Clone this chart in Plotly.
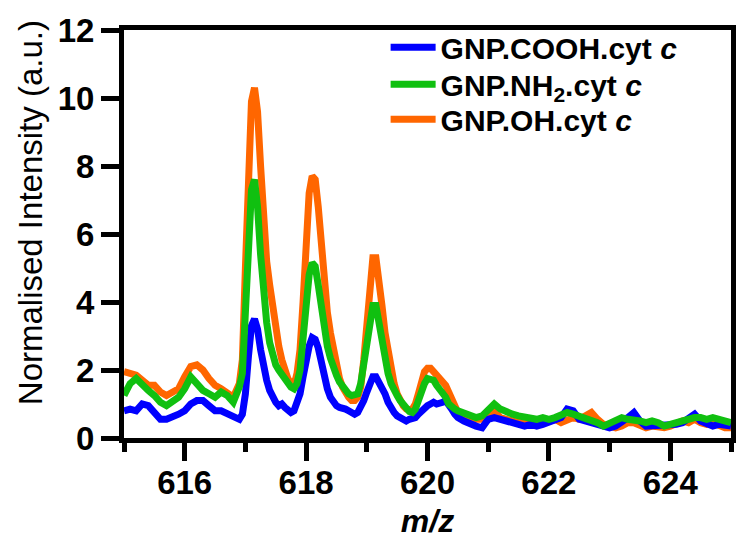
import plotly.graph_objects as go

mz = [615.0, 615.1, 615.2, 615.3, 615.4, 615.5, 615.6, 615.7, 615.8, 615.9,
      616.0, 616.1, 616.2, 616.3, 616.4, 616.5, 616.6, 616.7, 616.8, 616.9,
      616.95, 617.0, 617.05, 617.1, 617.15, 617.2, 617.25, 617.3, 617.35, 617.4,
      617.45, 617.5, 617.55, 617.6, 617.65, 617.7, 617.75, 617.8, 617.85, 617.9,
      617.95, 618.0, 618.05, 618.1, 618.15, 618.2, 618.25, 618.3, 618.35, 618.4,
      618.45, 618.5, 618.55, 618.6, 618.65, 618.7, 618.75, 618.8, 618.85, 618.9,
      618.95, 619.0, 619.05, 619.1, 619.15, 619.2, 619.25, 619.3, 619.35, 619.4,
      619.45, 619.5, 619.55, 619.6, 619.65, 619.7, 619.75, 619.8, 619.85, 619.9,
      619.95, 620.0, 620.05, 620.1, 620.15, 620.2, 620.25, 620.3, 620.35, 620.4,
      620.45, 620.5, 620.6, 620.7, 620.8, 620.9, 621.0, 621.1, 621.2, 621.3,
      621.4, 621.5, 621.6, 621.7, 621.8, 621.9, 622.0, 622.1, 622.2, 622.3,
      622.4, 622.5, 622.6, 622.7, 622.8, 622.9, 623.0, 623.1, 623.2, 623.3,
      623.4, 623.5, 623.6, 623.7, 623.8, 623.9, 624.0, 624.1, 624.2, 624.3,
      624.4, 624.5, 624.6, 624.7, 624.8, 624.9, 625.0]

oh_cytc = [1.95, 1.9, 1.85, 1.7, 1.55, 1.55, 1.35, 1.25, 1.35, 1.45,
           1.8, 2.1, 2.15, 2.0, 1.75, 1.55, 1.45, 1.35, 1.2, 1.6,
           2.3, 5.0, 8.0, 9.9, 10.3, 9.6, 8.0, 6.3, 5.2, 4.5,
           3.8, 3.2, 2.7, 2.3, 2.0, 1.75, 1.6, 1.55, 1.9, 2.6,
           4.0, 5.8, 7.2, 7.7, 7.6, 6.8, 5.6, 4.5, 3.7, 3.1,
           2.6, 2.1, 1.75, 1.5, 1.3, 1.2, 1.1, 1.1, 1.2, 1.5,
           2.3, 3.5, 4.6, 5.3, 5.3, 4.7, 3.9, 3.1, 2.5, 2.0,
           1.6, 1.3, 1.1, 0.95, 0.85, 0.82, 0.85, 1.0, 1.3, 1.7,
           1.95, 2.05, 2.05, 1.95, 1.85, 1.8, 1.7, 1.55, 1.35, 1.1,
           0.9, 0.75, 0.7, 0.6, 0.55, 0.55, 0.65, 0.8, 0.6, 0.55,
           0.45, 0.45, 0.5, 0.55, 0.5, 0.45, 0.5, 0.55, 0.45, 0.5,
           0.6, 0.55, 0.65, 0.75, 0.55, 0.4, 0.35, 0.3, 0.35, 0.45,
           0.45, 0.35, 0.3, 0.35, 0.3, 0.3, 0.35, 0.45, 0.5, 0.45,
           0.55, 0.45, 0.4, 0.45, 0.35, 0.3, 0.3]

nh2_cytc = [1.25, 1.6, 1.75, 1.55, 1.4, 1.25, 1.05, 0.95, 1.05, 1.2,
            1.45, 1.8, 1.6, 1.4, 1.3, 1.2, 1.35, 1.25, 1.05, 1.5,
            1.9, 3.6, 5.8, 7.3, 7.6, 6.8, 5.4, 4.2, 3.4, 2.8,
            2.4, 2.15, 2.0, 1.85, 1.7, 1.6, 1.5, 1.45, 1.6, 2.0,
            2.9, 4.0, 4.8, 5.15, 5.05, 4.5, 3.8, 3.2, 2.7, 2.35,
            2.05, 1.85, 1.65, 1.5, 1.4, 1.3, 1.25, 1.25, 1.3, 1.6,
            2.2, 2.9, 3.5, 3.9, 3.9, 3.4, 2.8, 2.3, 1.9, 1.6,
            1.35, 1.25, 1.1, 1.0, 0.85, 0.78, 0.75, 0.85, 1.1, 1.4,
            1.6, 1.75, 1.75, 1.7, 1.55, 1.45, 1.35, 1.2, 1.0, 0.9,
            0.85, 0.8, 0.75, 0.7, 0.6, 0.65, 0.85, 1.0, 0.85, 0.75,
            0.7, 0.65, 0.6, 0.6, 0.55, 0.6, 0.55, 0.6, 0.7, 0.75,
            0.7, 0.65, 0.6, 0.55, 0.45, 0.35, 0.45, 0.55, 0.6, 0.55,
            0.55, 0.5, 0.45, 0.5, 0.45, 0.35, 0.4, 0.45, 0.5, 0.6,
            0.6, 0.6, 0.55, 0.6, 0.55, 0.5, 0.45]

cooh_cytc = [0.8, 0.85, 0.8, 1.0, 0.95, 0.75, 0.55, 0.55, 0.6, 0.7,
             0.8, 1.0, 1.1, 1.1, 0.95, 0.8, 0.8, 0.7, 0.65, 0.55,
             0.7, 1.3, 2.4, 3.3, 3.5, 3.2, 2.6, 2.1, 1.7, 1.4,
             1.2, 1.05, 0.95, 1.0, 0.9, 0.85, 0.75, 0.8, 1.0, 1.3,
             1.8, 2.3, 2.7, 2.95, 2.9, 2.65, 2.2, 1.75, 1.45, 1.2,
             1.05, 0.95, 0.9, 0.9, 0.85, 0.8, 0.75, 0.7, 0.75, 0.9,
             1.1, 1.35, 1.6, 1.8, 1.8, 1.65, 1.5, 1.3, 1.05, 0.85,
             0.75, 0.65, 0.6, 0.55, 0.5, 0.55, 0.55, 0.6, 0.7, 0.8,
             0.9, 0.95, 1.0, 1.05, 1.0, 1.0, 1.05, 1.1, 1.0, 0.85,
             0.7, 0.6, 0.5, 0.4, 0.35, 0.3, 0.55, 0.6, 0.55, 0.5,
             0.4, 0.35, 0.35, 0.4, 0.35, 0.4, 0.45, 0.5, 0.6, 0.85,
             0.8, 0.55, 0.5, 0.45, 0.35, 0.3, 0.3, 0.35, 0.45, 0.6,
             0.75, 0.5, 0.35, 0.35, 0.4, 0.35, 0.35, 0.4, 0.45, 0.55,
             0.7, 0.5, 0.4, 0.35, 0.4, 0.35, 0.35]

series_names = ["<b>GNP.COOH.cyt <i>c</i></b>",
                "<b>GNP.NH<sub>2</sub>.cyt <i>c</i></b>",
                "<b>GNP.OH.cyt <i>c</i></b>"]
colors = {"cooh": "#0000FF", "nh2": "#10C010", "oh": "#FF6600"}

FONT = "Liberation Sans, Arial, sans-serif"
LW = 7

fig = go.Figure()
# drawing order: orange underneath, then blue, green on top
fig.add_trace(go.Scatter(x=mz, y=oh_cytc, mode="lines", name=series_names[2],
                         line=dict(color=colors["oh"], width=LW), legend="legend3"))
fig.add_trace(go.Scatter(x=mz, y=cooh_cytc, mode="lines", name=series_names[0],
                         line=dict(color=colors["cooh"], width=LW), legend="legend"))
fig.add_trace(go.Scatter(x=mz, y=nh2_cytc, mode="lines", name=series_names[1],
                         line=dict(color=colors["nh2"], width=LW), legend="legend2"))

legend_common = dict(x=0.431, xanchor="left", yanchor="middle", itemwidth=45,
                     font=dict(family=FONT, size=30, color="black"),
                     bgcolor="rgba(0,0,0,0)", borderwidth=0)

fig.update_layout(
    width=739, height=540,
    margin=dict(l=124, r=3, t=30, b=102),
    paper_bgcolor="white", plot_bgcolor="white",
    font=dict(family=FONT, color="black"),
    showlegend=True,
    legend=dict(y=0.958, **legend_common),
    legend2=dict(y=0.867, **legend_common),
    legend3=dict(y=0.781, **legend_common),
    xaxis=dict(
        range=[615, 625], tick0=616, dtick=2,
        showgrid=False, zeroline=False,
        showline=True, linecolor="black", linewidth=5, mirror=True,
        ticks="outside", ticklen=18, tickwidth=5, tickcolor="black",
        ticklabelstandoff=-7,
        tickfont=dict(family=FONT, size=33, color="black", weight="bold"),
        minor=dict(tick0=615, dtick=1, ticks="outside", ticklen=9,
                   tickwidth=5, tickcolor="black", showgrid=False),
        title=dict(text="<b><i>m/z</i></b>", font=dict(family=FONT, size=32, color="black"),
                   standoff=12),
    ),
    yaxis=dict(
        range=[0, 12], tick0=0, dtick=2,
        showgrid=False, zeroline=False,
        showline=True, linecolor="black", linewidth=5, mirror=True,
        ticks="outside", ticklen=18, tickwidth=5, tickcolor="black",
        tickfont=dict(family=FONT, size=33, color="black", weight="bold"),
    ),
    annotations=[dict(
        text="Normalised Intensity (a.u.)", textangle=-90,
        xref="paper", yref="paper", x=0, y=0.551,
        xanchor="center", yanchor="middle", xshift=-94, showarrow=False,
        font=dict(family=FONT, size=33, color="black"),
    )],
)

fig.write_html("out.html")
